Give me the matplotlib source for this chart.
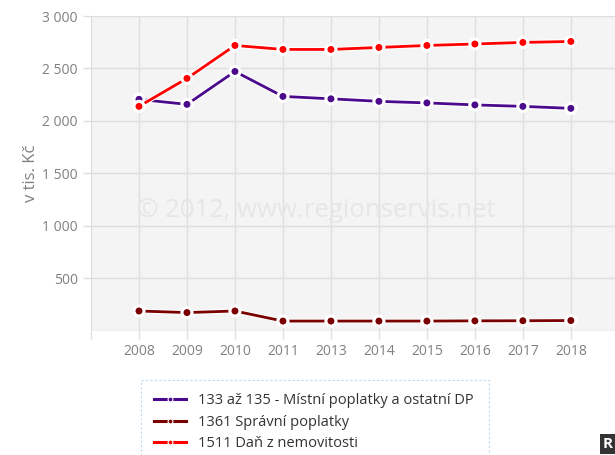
import matplotlib
matplotlib.use("Agg")
import matplotlib.pyplot as plt
import matplotlib.patheffects as pe
from matplotlib.lines import Line2D
import numpy as np

# data
years = ["2008", "2009", "2010", "2011", "2013", "2014", "2015", "2016", "2017", "2018"]
mistni = [2205, 2157, 2471, 2233, 2210, 2186, 2171, 2152, 2138, 2119]
spravni = [186, 171, 186, 90, 90, 90, 90, 92, 93, 95]
dan_nemovitosti = [2138, 2405, 2719, 2681, 2681, 2700, 2719, 2733, 2748, 2757]

series = [
    ("133 až 135 - Místní poplatky a ostatní DP", mistni, "#4b0a8c"),
    ("1361 Správní poplatky", spravni, "#7a0000"),
    ("1511 Daň z nemovitosti", dan_nemovitosti, "#ff0000"),
]

plt.rcParams['font.family'] = ['Open Sans', 'DejaVu Sans']

W, H = 615, 455
fig = plt.figure(figsize=(W / 100, H / 100), dpi=100)
ax = fig.add_axes([91 / W, 1 - 330.5 / H, 1 - 91 / W, (330.5 - 16) / H])
ax.set_facecolor("#f4f4f4")

x = np.arange(len(years))
handles = []
for name, vals, col in series:
    ax.plot(x, vals, color=col, lw=2, marker="o", ms=6, mfc=col, mec="white", mew=1,
            zorder=3,
            path_effects=[pe.Stroke(linewidth=3.5, foreground="white"), pe.Normal()])
    handles.append(Line2D([], [], color=col, lw=2.2, marker="o", ms=3.5, mfc=col,
                          mec="white", mew=0.8, label=name))

ax.set_xlim(-1, 9.92)
ax.set_ylim(0, 3000)
ax.set_yticks([500, 1000, 1500, 2000, 2500, 3000])
ax.set_yticklabels(["500", "1 000", "1 500", "2 000", "2 500", "3 000"])
ax.set_xticks(np.arange(-1, 10))
ax.set_xticklabels([""] + years)
ax.grid(True, color="#dedede", lw=1)
ax.set_axisbelow(True)
for s in ax.spines.values():
    s.set_visible(False)
ax.axhline(0, color="#dedede", lw=1, zorder=1)
ax.tick_params(axis="both", colors="#dedede", labelcolor="#808080", labelsize=10, length=6, width=1)
ax.tick_params(axis="x", pad=4)
ax.set_ylabel("v tis. Kč", color="#808080", fontsize=12)
ax.yaxis.set_label_coords((39 - 91) / (W - 91), 0.5)

ax.text((316 - 91) / (W - 91), (330.5 - 211) / (330.5 - 16), "© 2012, www.regionservis.net",
        transform=ax.transAxes, ha="center", va="center", fontsize=18.5, color="#e6e6e6", zorder=2)

leg = ax.legend(handles=handles, loc="upper left",
                bbox_to_anchor=(141 / W, 0, (489 - 141) / W, 1 - 380 / H),
                bbox_transform=fig.transFigure, mode="expand", frameon=True, fontsize=10.5,
                handlelength=2.2, borderpad=0.9, labelspacing=0.45, fancybox=False,
                borderaxespad=0)
leg.get_frame().set_edgecolor("#b0d0ec")
leg.get_frame().set_linestyle((0, (2, 2)))
leg.get_frame().set_linewidth(0.8)
for t in leg.get_texts():
    t.set_color("#333333")

fig.text(608 / W, 1 - 444 / H, "R", ha="center", va="center", fontsize=11, fontweight="bold",
         color="white", bbox=dict(boxstyle="square,pad=0.2", fc="#333333", ec="none"))

fig.savefig("out.png", dpi=100)
